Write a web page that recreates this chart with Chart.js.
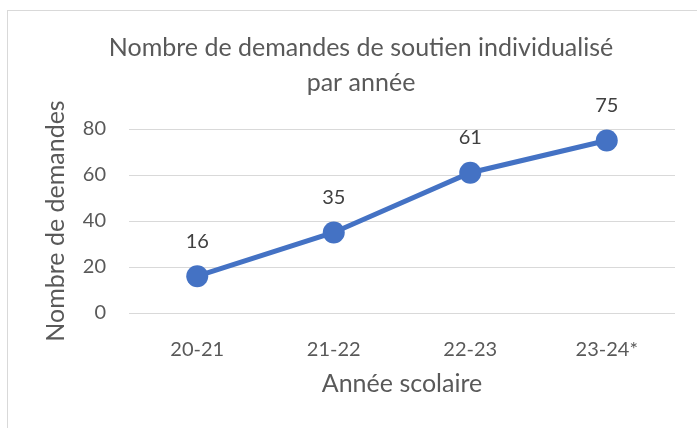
<!DOCTYPE html>
<html>
<head>
<meta charset="utf-8">
<script src="https://cdn.jsdelivr.net/npm/chart.js@4"></script>
<style>
html, body { margin: 0; padding: 0; background: #fff; overflow: hidden; }
#cadre { position: absolute; left: 7px; top: 10px; width: 720px; height: 440px; border: 1px solid #d9d9d9; }
#zone { position: absolute; left: 0; top: 0; width: 697px; height: 428px; }
</style>
</head>
<body>
<div id="cadre"></div>
<div id="zone"><canvas id="graphique"></canvas></div>
<script>
// --- DONNÉES ---
const annees = ['20-21', '21-22', '22-23', '23-24*'];
const demandes = [16, 35, 61, 75];
const titre = ['Nombre de demandes de soutien individualisé', 'par année'];
const graduationsY = [0, 20, 40, 60, 80];

const gris = '#595959';
const bleu = '#4472c4';

// --- ÉTIQUETTES DE DONNÉES (au-dessus des points) ---
const etiquettes = {
    id: 'etiquettes',
    afterDatasetsDraw(chart) {
        const ctx = chart.ctx;
        const meta = chart.getDatasetMeta(0);
        ctx.save();
        ctx.font = '20px Lato';
        ctx.fillStyle = '#404040';
        ctx.textAlign = 'center';
        ctx.textBaseline = 'middle';
        meta.data.forEach((pt, i) => {
            ctx.fillText(String(demandes[i]), pt.x, pt.y - 35);
        });
        ctx.restore();
    }
};

new Chart(document.getElementById('graphique').getContext('2d'), {
    type: 'line',
    data: {
        labels: annees,
        datasets: [{
            data: demandes,
            borderColor: bleu,
            backgroundColor: bleu,
            borderWidth: 5,
            pointRadius: 11,
            pointHoverRadius: 11,
            pointBorderWidth: 0,
            pointBackgroundColor: bleu,
            tension: 0
        }]
    },
    options: {
        responsive: true,
        maintainAspectRatio: false,
        animation: false,
        // gauche plus large pour centrer le titre comme dans l'original
        layout: { padding: { left: 47, right: 22, top: 0, bottom: 0 } },
        plugins: {
            legend: { display: false },
            tooltip: { enabled: false },
            title: {
                display: true,
                text: titre,
                color: gris,
                font: { family: 'Lato', size: 25, weight: 'normal', lineHeight: 1.4 },
                padding: { top: 30, bottom: 29 }
            }
        },
        scales: {
            x: {
                offset: true,
                grid: { display: false },
                border: { display: false },
                ticks: { color: gris, font: { family: 'Lato', size: 20 }, padding: 17 },
                title: {
                    display: true,
                    text: 'Année scolaire',
                    color: gris,
                    font: { family: 'Lato', size: 25 },
                    padding: { top: 0, bottom: 29 }
                },
                afterFit(scale) { scale.height = 115; }
            },
            y: {
                min: 0,
                max: 80,
                afterBuildTicks(scale) { scale.ticks = graduationsY.map(v => ({ value: v })); },
                grid: { color: '#d9d9d9', lineWidth: 1, drawTicks: false },
                border: { display: false },
                ticks: { color: gris, font: { family: 'Lato', size: 20 }, padding: 23 },
                title: {
                    display: true,
                    text: 'Nombre de demandes',
                    color: gris,
                    font: { family: 'Lato', size: 25 },
                    padding: { top: -6, bottom: 0 }
                },
                afterFit(scale) { scale.width = 82; }
            }
        }
    },
    plugins: [etiquettes]
});
</script>
</body>
</html>
